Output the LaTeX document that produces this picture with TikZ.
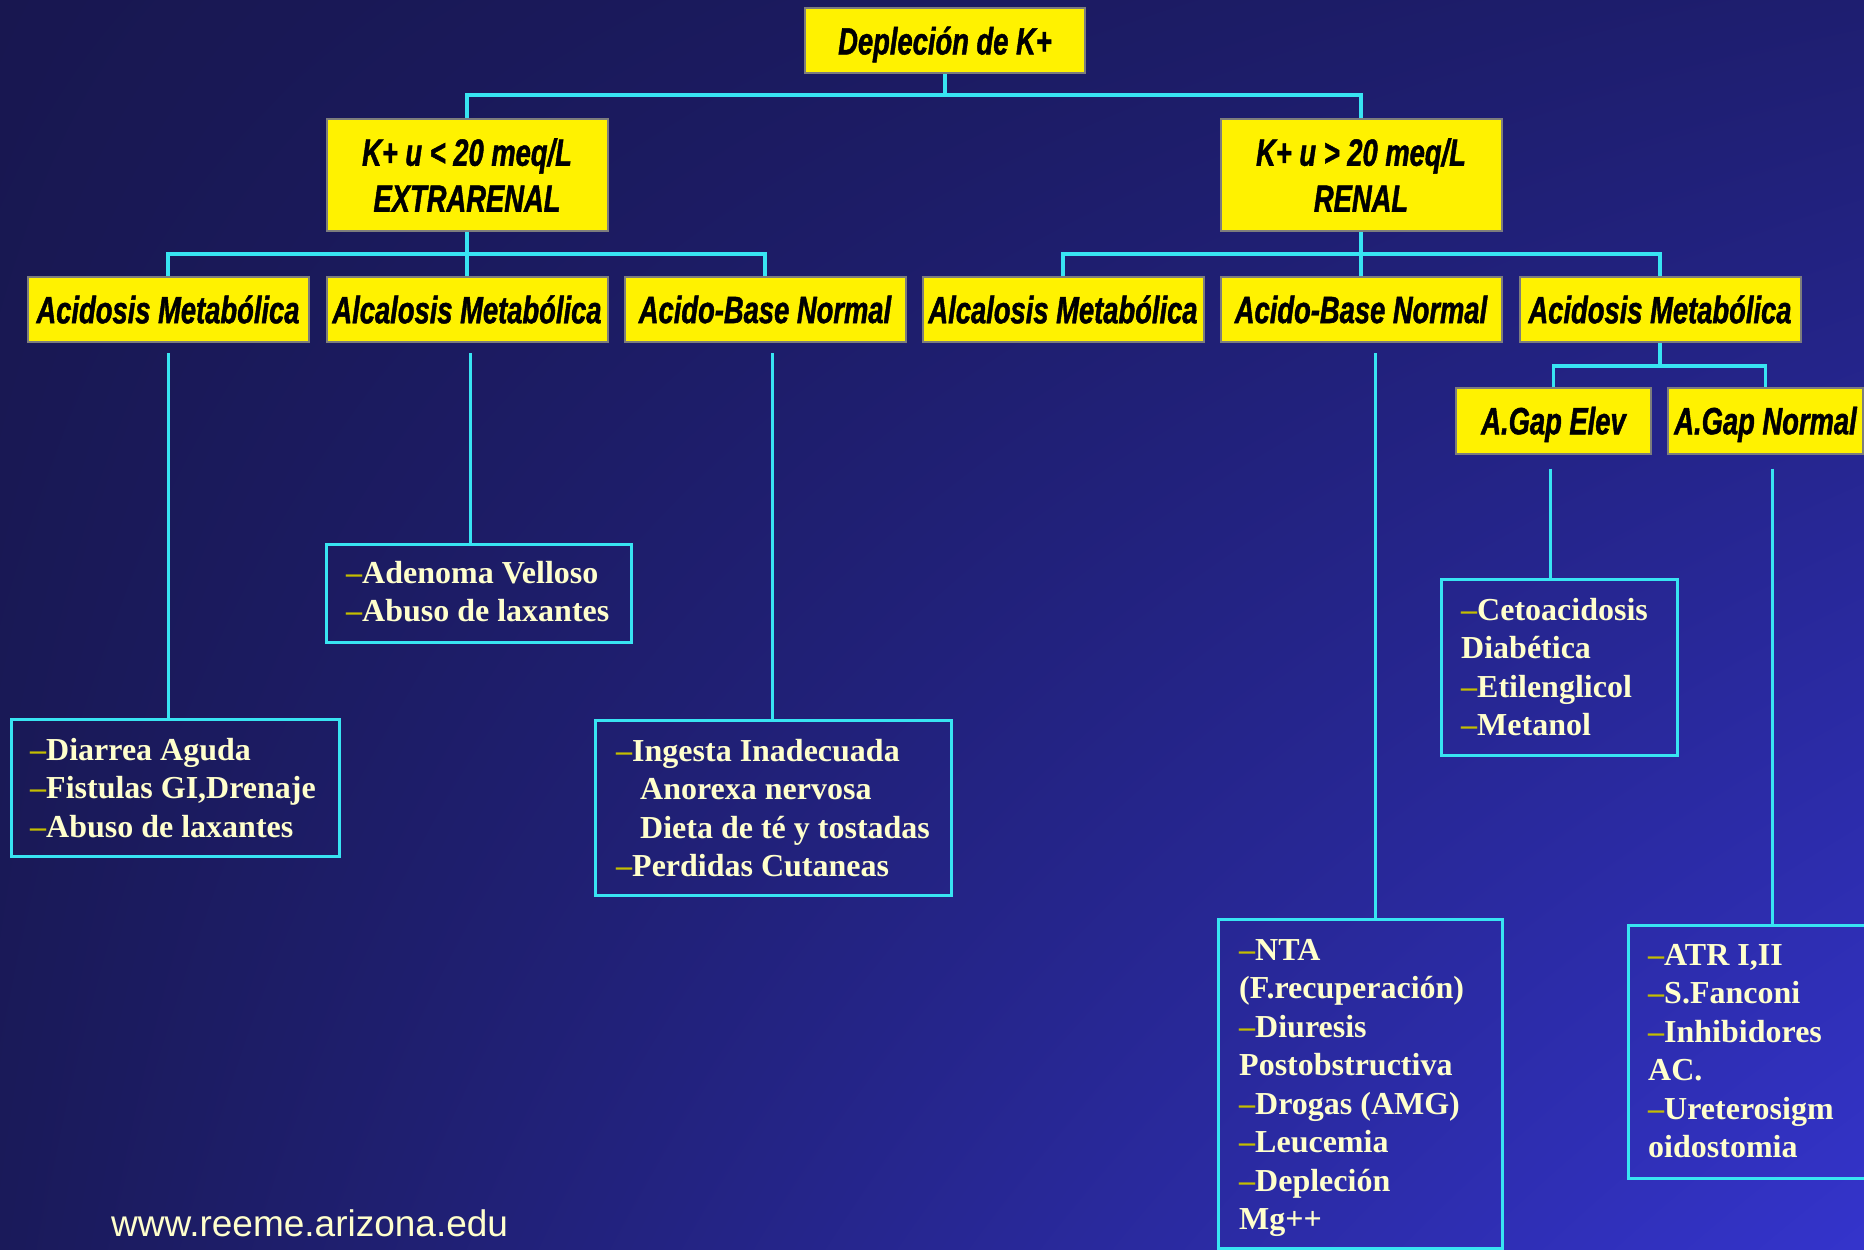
\documentclass[tikz,border=0pt]{standalone}
\usepackage{fontspec}
\usetikzlibrary{shadings}
\newfontfamily\boxfont[FakeStretch=0.72, BoldItalicFeatures={FakeBold=1.2}]{Liberation Sans}
\newfontfamily\leaffont{Liberation Serif}
\newfontfamily\webfont{Liberation Sans}
\definecolor{linecyan}{RGB}{56,228,242}
\definecolor{cream}{RGB}{255,255,204}
\definecolor{dashol}{RGB}{196,190,0}
\definecolor{boxgrey}{RGB}{125,125,125}
\definecolor{bgUL}{RGB}{24,23,80}
\definecolor{bgUR}{RGB}{30,30,112}
\definecolor{bgLL}{RGB}{26,26,90}
\definecolor{bgLR}{RGB}{52,52,204}
\newcommand{\dsh}{\textcolor{dashol}{–}}
\tikzset{
  ybox/.style={draw=boxgrey, line width=2pt, fill=yellow, text=black,
    font=\boxfont\bfseries\itshape\fontsize{38}{46}\selectfont,
    minimum width=281pt, minimum height=65pt, inner sep=0pt, align=center},
  conn/.style={draw=linecyan, line width=3.5pt},
  leafbox/.style={draw=linecyan, line width=3pt, anchor=north west, inner sep=0pt},
  % anchored at the baseline of the last line
  leaftext/.style={anchor=base west, inner sep=0pt, align=left, text=cream,
    font=\leaffont\bfseries\fontsize{32}{38.5}\selectfont}
}
\begin{document}
\begin{tikzpicture}[x=1pt,y=-1pt]
% background
\useasboundingbox (0,0) rectangle (1864,1250);
\shade[upper left=bgUL, upper right=bgUR, lower left=bgLL, lower right=bgLR]
  (0,0) rectangle (1864,1250);

% decision boxes
\node[ybox, minimum width=280pt, text depth=0pt] (root) at (945,40.5) {Depleción de K+};
\node[ybox, minimum height=112pt] (ext) at (467,175) {K+ u < 20 meq/L\\EXTRARENAL};
\node[ybox, minimum height=112pt] (ren) at (1361,175) {K+ u > 20 meq/L\\RENAL};

\node[ybox] (eAcid) at (168,309.5) {Acidosis Metabólica};
\node[ybox] (eAlk)  at (467,309.5) {Alcalosis Metabólica};
\node[ybox] (eNorm) at (765,309.5) {Acido-Base Normal};
\node[ybox] (rAlk)  at (1063,309.5) {Alcalosis Metabólica};
\node[ybox] (rNorm) at (1361,309.5) {Acido-Base Normal};
\node[ybox] (rAcid) at (1660,309.5) {Acidosis Metabólica};

\node[ybox, minimum width=195pt, minimum height=66pt, text depth=0pt] (gElev) at (1553.5,420.5) {A.Gap Elev};
\node[ybox, minimum width=195pt, minimum height=66pt, text depth=0pt] (gNorm) at (1765.5,420.5) {A.Gap Normal};

% tree connectors
\coordinate (b0) at (945,95);
\draw[conn] (root.south) -- (b0);
\draw[conn] (ext.north) |- (b0) -| (ren.north);

\coordinate (b1) at (467,254);
\draw[conn] (ext.south) -- (b1) -- (eAlk.north);
\draw[conn] (eAcid.north) |- (b1) -| (eNorm.north);

\coordinate (b2) at (1361,254);
\draw[conn] (ren.south) -- (b2) -- (rNorm.north);
\draw[conn] (rAlk.north) |- (b2) -| (rAcid.north);

\coordinate (b3) at (1660,366);
\draw[conn] (rAcid.south) -- (b3);
\draw[conn] (gElev.north) |- (b3) -| (gNorm.north);

% cause boxes
\node[leafbox, minimum width=328pt, minimum height=137pt] (lDiar) at (10,718) {};
\node[leafbox, minimum width=305pt, minimum height=98pt]  (lAden) at (325,543) {};
\node[leafbox, minimum width=356pt, minimum height=175pt] (lInge) at (594,719) {};
\node[leafbox, minimum width=236pt, minimum height=176pt] (lCeto) at (1440,578) {};
\node[leafbox, minimum width=284pt, minimum height=329pt] (lNTA)  at (1217,918) {};
\node[leafbox, minimum width=300pt, minimum height=253pt] (lATR)  at (1627,924) {};

% drop lines to the cause boxes
\coordinate (t1) at (168,718);
\coordinate (t2) at (470,543);
\coordinate (t3) at (772,719);
\coordinate (t4) at (1375,918);
\coordinate (t5) at (1550,578);
\coordinate (t6) at (1772,924);
\draw[conn, line width=3pt] ([yshift=-10pt]eAcid.south -| t1) -- (t1);
\draw[conn, line width=3pt] ([yshift=-10pt]eAlk.south -| t2) -- (t2);
\draw[conn, line width=3pt] ([yshift=-10pt]eNorm.south -| t3) -- (t3);
\draw[conn, line width=3pt] ([yshift=-10pt]rNorm.south -| t4) -- (t4);
\draw[conn, line width=3pt] ([yshift=-14pt]gElev.south -| t5) -- (t5);
\draw[conn, line width=3pt] ([yshift=-14pt]gNorm.south -| t6) -- (t6);

% cause lists
\node[leaftext] (xDiar) at (30,837)
  {\dsh Diarrea Aguda\\\dsh Fistulas GI,Drenaje\\\dsh Abuso de laxantes};
\node[leaftext] (xAden) at (346,621.5)
  {\dsh Adenoma Velloso\\\dsh Abuso de laxantes};
\node[leaftext] (xInge) at (616,876.5)
  {\dsh Ingesta Inadecuada\\\hspace*{24pt}Anorexa nervosa\\\hspace*{24pt}Dieta de té y tostadas\\\dsh Perdidas Cutaneas};
\node[leaftext] (xCeto) at (1461,735.5)
  {\dsh Cetoacidosis\\Diabética\\\dsh Etilenglicol\\\dsh Metanol};
\node[leaftext] (xNTA) at (1239,1229.5)
  {\dsh NTA\\(F.recuperación)\\\dsh Diuresis\\Postobstructiva\\\dsh Drogas (AMG)\\\dsh Leucemia\\\dsh Depleción\\Mg++};
\node[leaftext] (xATR) at (1648,1157.5)
  {\dsh ATR I,II\\\dsh S.Fanconi\\\dsh Inhibidores\\AC.\\\dsh Ureterosigm\\oidostomia};

% source line
\node[anchor=base west, inner sep=0pt, text=cream, font=\webfont\fontsize{37}{44}\selectfont]
  (web) at (111,1236) {www.reeme.arizona.edu};
\end{tikzpicture}
\end{document}
